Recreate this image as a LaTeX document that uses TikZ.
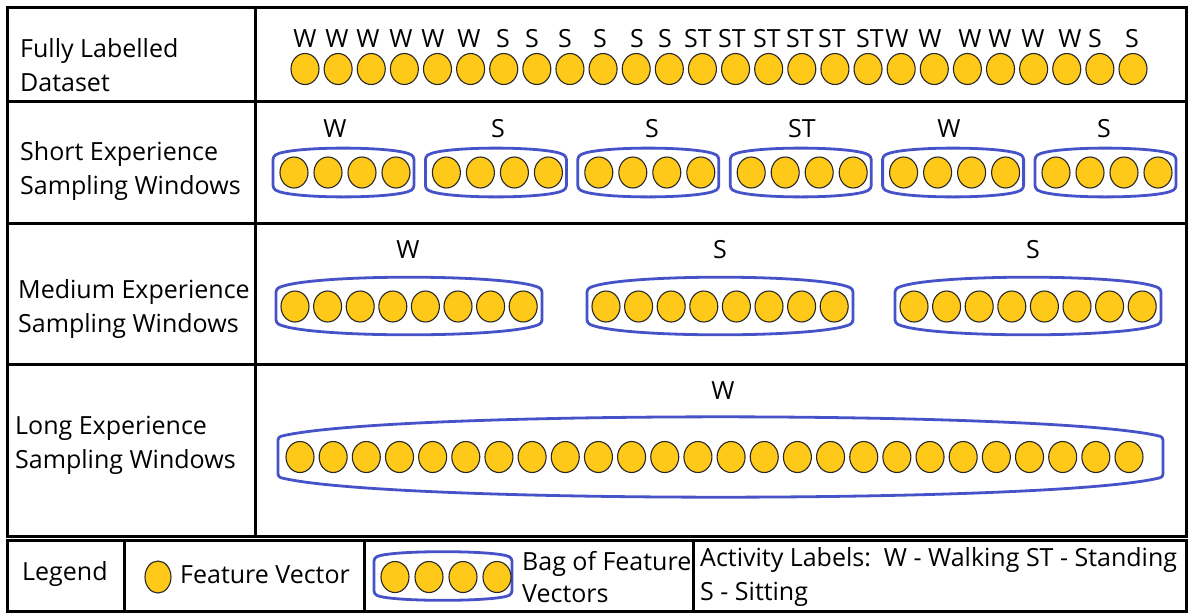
\documentclass[tikz,border=0pt]{standalone}
\usepackage{fontspec}
\setmainfont{Open Sans}
\usetikzlibrary{shapes.geometric}
\definecolor{fvfill}{RGB}{255,201,25}
\definecolor{fvline}{RGB}{40,40,40}
\definecolor{bagblue}{RGB}{70,82,200}

% outline of a bag of feature vectors: x1, x2, y-centre, half height, bulge
\newcommand\bagoutline[5]{%
  \draw[bag] (#1,{#3-#4})
    .. controls ({#1+0.12*(#2-#1)},{#3-#4-1.333*#5}) and ({#2-0.12*(#2-#1)},{#3-#4-1.333*#5}) .. (#2,{#3-#4})
    -- (#2,{#3+#4})
    .. controls ({#2-0.12*(#2-#1)},{#3+#4+1.333*#5}) and ({#1+0.12*(#2-#1)},{#3+#4+1.333*#5}) .. (#1,{#3+#4})
    -- cycle;}

\begin{document}
\begin{tikzpicture}[x=1pt,y=-1pt,
  rule/.style={line width=3pt,black},
  bag/.style={line width=2.8pt,draw=bagblue,line join=round,rounded corners=3pt},
  fvec/.style={ellipse,draw=fvline,line width=1.1pt,fill=fvfill,inner sep=0pt,
               minimum width=28pt,minimum height=31pt},
  txt/.style={font=\fontsize{25}{34}\selectfont,inner sep=0pt},
  hdr/.style={txt,anchor=base west,align=left},
  lab/.style={txt,anchor=base}]
\useasboundingbox (0,0) rectangle (1192,614);
\fill[white] (0,0) rectangle (1192,614);

% ---- main table ----
\draw[rule] (7,7) rectangle (1186,536);
\draw[rule] (7,101) -- (1186,101);
\draw[rule] (7,223) -- (1186,223);
\draw[rule] (7,364) -- (1186,364);
\draw[rule] (255,7) -- (255,536);

% ---- legend table ----
\draw[rule] (7,540) rectangle (1186,611);
\draw[rule] (124,540) -- (124,611);
\draw[rule] (364,540) -- (364,611);
\draw[rule] (693,540) -- (693,611);

% ---- row headers (anchored at the baseline of the last line) ----
\node[hdr] (h1) at (20,91)  {Fully Labelled\\Dataset};
\node[hdr] (h2) at (20,194) {Short Experience\\Sampling Windows};
\node[hdr] (h3) at (18,332) {Medium Experience\\Sampling Windows};
\node[hdr] (h4) at (15,468) {Long Experience\\Sampling Windows};

% ---- fully labelled dataset ----
\foreach \i in {0,...,25}
  \node[fvec] (a\i) at ({305+33.12*\i},69) {};
\foreach \x/\t [count=\k] in {305/W,337/W,368/W,401/W,433/W,469/W,
    503/S,532/S,565/S,600/S,637/S,665/S,
    698/ST,732/ST,767/ST,800/ST,832/ST,870/ST,
    897/W,930/W,970/W,1000/W,1033/W,1070/W,1095/S,1132/S}
  \node[lab] (la\k) at (\x,47) {\t};

% ---- short windows: 4 vectors per bag ----
\foreach \j/\t/\lx in {0/W/335,1/S/498,2/S/652,3/ST/802,4/W/949,5/S/1104}{
  \pgfmathsetmacro\xa{273+152.4*\j}
  \pgfmathsetmacro\xb{\xa+141}
  \bagoutline{\xa}{\xb}{172.5}{16}{8}
  \foreach \i in {0,...,3}
    \node[fvec] (b\j-\i) at ({\xa+21+34*\i},172.5) {};
  \node[lab] (lb\j) at (\lx,137) {\t};
}

% ---- medium windows: 8 vectors per bag ----
\foreach \j/\xa/\t/\lx in {0/276/W/408,1/587/S/720,2/895/S/1033}{
  \pgfmathsetmacro\xb{\xa+266}
  \bagoutline{\xa}{\xb}{306}{17}{11.5}
  \foreach \i in {0,...,7}
    \node[fvec] (c\j-\i) at ({\xa+19+32.6*\i},306.5) {};
  \node[lab] (lc\j) at (\lx,258) {\t};
}

% ---- long window: all 26 vectors ----
\bagoutline{278}{1163}{457}{20}{20}
\foreach \i in {0,...,25}
  \node[fvec] (d\i) at ({300+33.16*\i},457) {};
\node[lab] (ld) at (723,399) {W};

% ---- legend ----
\node[hdr] (lg) at (22,580) {Legend};
\node[fvec,minimum width=26pt,minimum height=32pt] (lgc) at (158,577) {};
\node[hdr] (lgct) at (180,583) {Feature Vector};
\bagoutline{374}{512}{576}{18}{6}
\foreach \i in {0,...,3}
  \node[fvec] (lgb\i) at ({395+34*\i},577) {};
\node[hdr,font=\fontsize{25}{32}\selectfont] (lgbt) at (522,602) {Bag of Feature\\Vectors};
\node[hdr] (lgat) at (700,600) {Activity Labels:\ \ W - Walking ST - Standing\\S - Sitting};
\end{tikzpicture}
\end{document}
